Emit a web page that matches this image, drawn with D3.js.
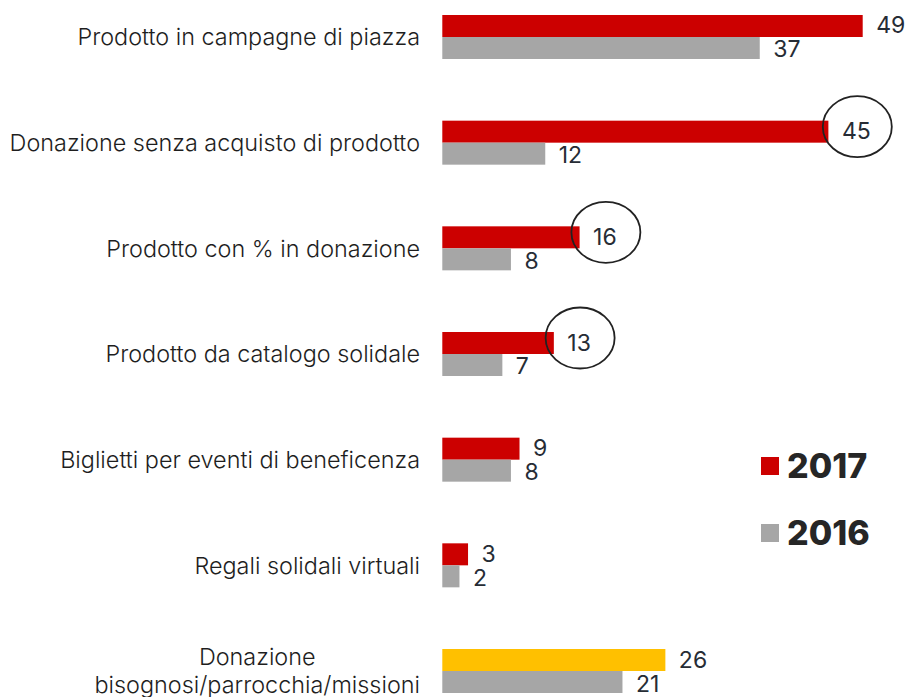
<!DOCTYPE html>
<html>
<head>
<meta charset="utf-8">
<script src="https://cdn.jsdelivr.net/npm/d3@7"></script>
<style>
  body { margin: 0; background: #fff; }
  .cat { font-family: "Inter", "Liberation Sans", sans-serif; font-size: 23.4px; font-weight: 300; fill: #1e1e1e; }
  .val { font-family: "Inter", "Liberation Sans", sans-serif; font-size: 23px; font-weight: 400; fill: #262c35; }
  .leg { font-family: "Inter", "Noto Sans", sans-serif; font-size: 34px; font-weight: 800; fill: #262626; }
</style>
</head>
<body>
<div id="chart"></div>
<script>
// categories, top to bottom
var categories = [
  "Prodotto in campagne di piazza",
  "Donazione senza acquisto di prodotto",
  "Prodotto con % in donazione",
  "Prodotto da catalogo solidale",
  "Biglietti per eventi di beneficenza",
  "Regali solidali virtuali",
  "Donazione\nbisognosi/parrocchia/missioni"
];
var values2017 = [49, 45, 16, 13, 9, 3, 26];
var values2016 = [37, 12, 8, 7, 8, 2, 21];
// which 2017 values are circled
var circled = [false, true, true, true, false, false, false];
var years = ["2017", "2016"];

var W = 913, H = 697;
var svg = d3.select("#chart").append("svg").attr("width", W).attr("height", H);

var x = d3.scaleLinear().domain([0, 49]).range([442.3, 862.7]);
var y = d3.scaleBand().domain(categories).range([15, 693]).paddingInner(0.5836).paddingOuter(0);
var sub = d3.scaleBand().domain(years).range([0, y.bandwidth()]);

var colors = { "2017": "#cc0000", "2016": "#a6a6a6" };
var lastCat = categories[categories.length - 1];

var rows = [];
categories.forEach(function(c, i) {
  rows.push({ cat: c, year: "2017", v: values2017[i], circ: circled[i] });
  rows.push({ cat: c, year: "2016", v: values2016[i], circ: false });
});

// bars
svg.selectAll("rect.bar").data(rows).enter().append("rect")
  .attr("class", "bar")
  .attr("x", x(0))
  .attr("y", function(d) { return y(d.cat) + sub(d.year); })
  .attr("width", function(d) { return x(d.v) - x(0); })
  .attr("height", sub.bandwidth())
  .attr("fill", function(d) {
    if (d.year == "2017" && d.cat == lastCat) return "#ffc000"; /* highlighted last bar */
    return colors[d.year];
  });

// value labels
var vals = svg.selectAll("text.val").data(rows).enter().append("text")
  .attr("class", "val")
  .attr("x", function(d) { return x(d.v) + 13.5; })
  .attr("y", function(d) {
    var bottom = y(d.cat) + sub(d.year) + sub.bandwidth();
    return d.year == "2017" ? bottom - 3.5 : bottom - 1.5;
  })
  .text(function(d) { return d.v; });

// ellipses round some labels
vals.filter(function(d) { return d.circ; }).each(function(d) {
  var bb = this.getBBox();
  svg.append("ellipse")
    .attr("cx", bb.x + bb.width / 2 + 1)
    .attr("cy", y(d.cat) + sub(d.year) + sub.bandwidth() / 2 - 5)
    .attr("rx", 34.5)
    .attr("ry", 30.5)
    .attr("fill", "none")
    .attr("stroke", "#222")
    .attr("stroke-width", 1.8);
});

// category labels
categories.forEach(function(c) {
  var lines = c.split("\n");
  var cy = y(c) + y.bandwidth() / 2;
  var g = svg.append("text").attr("class", "cat");
  if (lines.length == 1) {
    g.attr("x", 420).attr("y", cy).attr("dy", "0.35em").attr("text-anchor", "end").text(c);
  } else {
    // multi-line label, centered on the widest line that is right-aligned at 420
    var spans = lines.map(function(l, k) {
      return g.append("tspan").attr("y", cy + (k - (lines.length - 1) / 2) * 28).attr("dy", "0.35em").text(l);
    });
    var maxW = d3.max(spans, function(s) { return s.node().getComputedTextLength(); });
    g.attr("text-anchor", "middle");
    spans.forEach(function(s) { s.attr("x", 420 - maxW / 2); });
  }
});

// legend
var legY = { "2017": 466, "2016": 533 };
years.forEach(function(yr) {
  svg.append("rect").attr("x", 761).attr("y", legY[yr] - 9).attr("width", 18).attr("height", 18).attr("fill", colors[yr]);
  svg.append("text").attr("class", "leg").attr("x", 787).attr("y", legY[yr] + 11.5).text(yr);
});
</script>
</body>
</html>
